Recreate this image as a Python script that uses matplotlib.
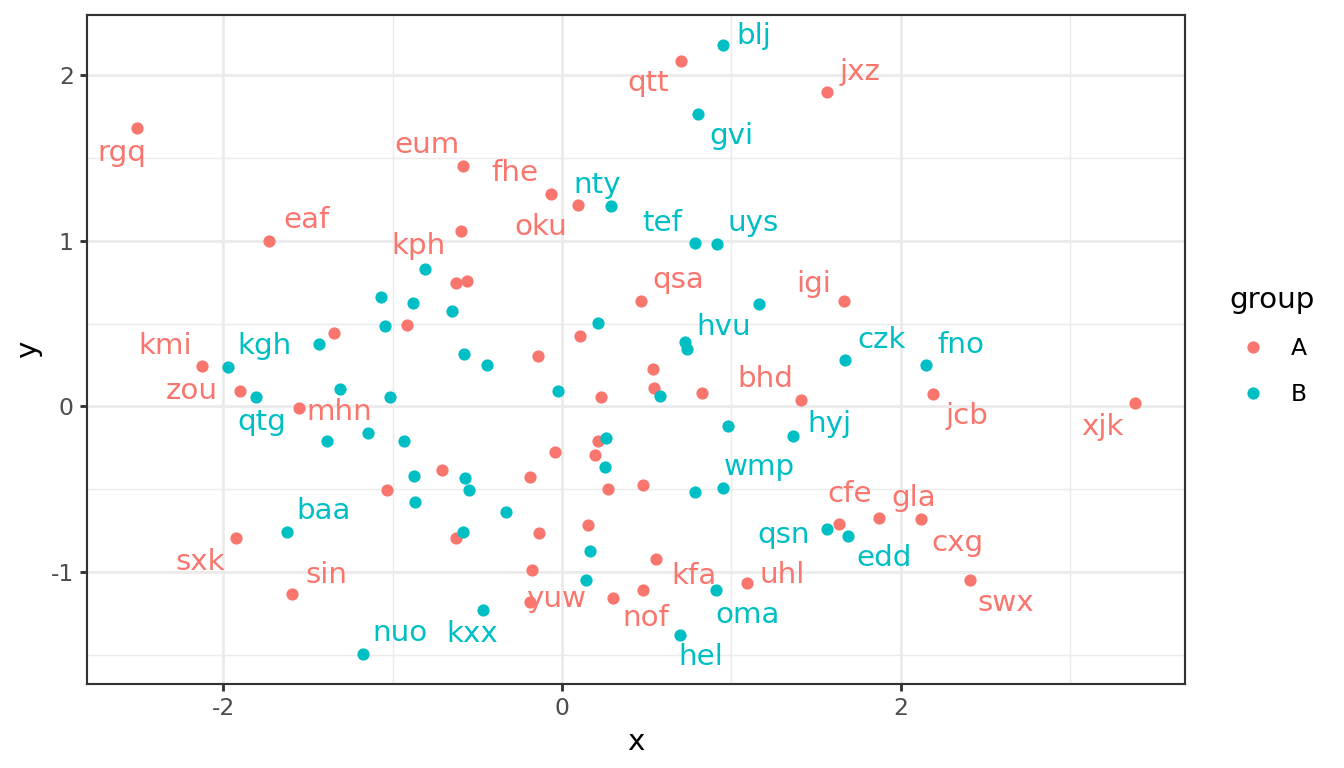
import matplotlib
matplotlib.use("Agg")
import matplotlib.pyplot as plt
from matplotlib.lines import Line2D
from matplotlib.ticker import MultipleLocator

plt.rcParams['font.family'] = ['DejaVu Sans']
plt.rcParams['axes.unicode_minus'] = False

# group A
xa = [-2.509, -1.727, -0.583, -0.597, -0.628, -0.559, -0.912, -1.344, -0.063, 0.096,
      0.703, 1.566, 0.467, 1.664, 0.109, -0.144, -2.123, -1.903, -1.550, 0.538,
      0.544, 0.228, 0.827, 1.414, 2.188, 3.384, 0.216, -0.039, 0.193, -0.705,
      -1.031, -0.189, 0.275, 0.477, -0.625, -0.138, 0.153, -1.925, -1.595, 0.554,
      -0.179, 0.302, 0.476, -0.187, 1.090, 1.634, 1.870, 2.120, 2.410]
ya = [1.679, 1.000, 1.448, 1.060, 0.744, 0.755, 0.494, 0.444, 1.279, 1.213,
      2.084, 1.899, 0.637, 0.633, 0.422, 0.303, 0.245, 0.096, -0.008, 0.224,
      0.110, 0.055, 0.084, 0.040, 0.078, 0.022, -0.206, -0.274, -0.295, -0.386,
      -0.504, -0.425, -0.499, -0.474, -0.791, -0.761, -0.716, -0.791, -1.133, -0.917,
      -0.986, -1.155, -1.105, -1.176, -1.062, -0.711, -0.670, -0.677, -1.046]
labels_a = ['rgq', 'eaf', 'eum', 'kph', '', '', '', '', 'fhe', 'oku',
            'qtt', 'jxz', 'qsa', 'igi', '', '', 'kmi', 'zou', 'mhn', '',
            '', '', '', 'bhd', 'jcb', 'xjk', '', '', '', '',
            '', '', '', '', '', '', '', 'sxk', 'sin', 'kfa',
            '', 'nof', '', 'yuw', 'uhl', 'cfe', 'gla', 'cxg', 'swx']

# group B
xb = [0.953, 0.801, 0.287, 0.786, 0.915, -0.810, -1.068, -0.878, -0.647, -1.045,
      -1.435, -0.577, -0.442, 1.161, 0.212, 0.727, 0.738, 1.674, 2.147, -1.974,
      -1.807, -1.308, -1.012, -0.024, 0.579, 0.979, 1.365, 0.259, 0.252, -1.384,
      -1.145, -0.933, -0.876, -0.572, -0.549, -0.865, 0.784, 0.949, -0.330, -0.582,
      -1.622, 0.163, 0.143, 1.566, 1.689, 0.909, 0.695, -0.464, -1.174]
yb = [2.177, 1.765, 1.209, 0.984, 0.982, 0.828, 0.663, 0.625, 0.577, 0.484,
      0.375, 0.316, 0.251, 0.619, 0.502, 0.390, 0.348, 0.281, 0.249, 0.235,
      0.058, 0.107, 0.056, 0.095, 0.066, -0.119, -0.181, -0.189, -0.363, -0.208,
      -0.158, -0.210, -0.419, -0.434, -0.506, -0.575, -0.516, -0.490, -0.639, -0.754,
      -0.755, -0.872, -1.047, -0.737, -0.783, -1.107, -1.377, -1.230, -1.490]
labels_b = ['blj', 'gvi', 'nty', 'tef', 'uys', '', '', '', '', '',
            '', '', '', '', '', 'hvu', '', 'czk', 'fno', 'kgh',
            'qtg', '', '', '', '', '', 'hyj', '', '', '',
            '', '', '', '', '', '', '', 'wmp', '', '',
            'baa', '', '', 'qsn', 'edd', 'oma', 'hel', 'kxx', 'nuo']

# repelled label offsets (pixels, from point to label centre)
label_offset = {
    'rgq': (-15, -25), 'eaf': (37, 21), 'eum': (-36, 21), 'kph': (-42, -15),
    'fhe': (-36, 21), 'oku': (-37, -22), 'qtt': (-33, -22), 'jxz': (33, 20),
    'qsa': (37, 21), 'igi': (-30, 17), 'kmi': (-37, 20), 'zou': (-48, 0),
    'mhn': (40, -4), 'bhd': (-36, 21), 'jcb': (34, -22), 'xjk': (-33, -24),
    'sxk': (-36, -24), 'sin': (35, 19), 'kfa': (38, -17), 'nof': (33, -20),
    'yuw': (26, 3), 'uhl': (36, 8), 'cfe': (11, 30), 'gla': (35, 20),
    'cxg': (36, -24), 'swx': (36, -23),
    'blj': (30, 9), 'gvi': (34, -22), 'nty': (-13, 21), 'tef': (-33, 20),
    'uys': (36, 21), 'hvu': (39, 15), 'czk': (36, 20), 'fno': (35, 20),
    'kgh': (37, 21), 'qtg': (6, -25), 'hyj': (36, 12), 'wmp': (37, 21),
    'baa': (36, 21), 'qsn': (-44, -6), 'edd': (36, -22), 'oma': (32, -25),
    'hel': (21, -22), 'kxx': (-11, -24), 'nuo': (37, 21),
}

col_a = '#F8766D'
col_b = '#00BFC4'

fig = plt.figure(figsize=(7, 4), dpi=192)
ax = fig.add_axes([87 / 1344, 1 - 684 / 768, (1185 - 87) / 1344, (684 - 15) / 768])

for xs, ys, labs, c in [(xa, ya, labels_a, col_a), (xb, yb, labels_b, col_b)]:
    ax.scatter(xs, ys, s=21, color=c, linewidths=0, zorder=3)
    for x, y, lab in zip(xs, ys, labs):
        if lab:
            dx, dy = label_offset[lab]
            ax.annotate(lab, (x, y), xytext=(dx, dy), textcoords='offset pixels',
                        ha='center', va='center', color=c, fontsize=11, zorder=4)

# ggplot-style expanded limits
allx = xa + xb
ally = ya + yb
rx = max(allx) - min(allx)
ry = max(ally) - min(ally)
ax.set_xlim(min(allx) - 0.05 * rx, max(allx) + 0.05 * rx)
ax.set_ylim(min(ally) - 0.05 * ry, max(ally) + 0.05 * ry)

ax.xaxis.set_major_locator(MultipleLocator(2))
ax.xaxis.set_minor_locator(MultipleLocator(1))
ax.yaxis.set_major_locator(MultipleLocator(1))
ax.yaxis.set_minor_locator(MultipleLocator(0.5))
ax.grid(which='major', color='#EBEBEB', linewidth=1.07)
ax.grid(which='minor', color='#EBEBEB', linewidth=0.53)
ax.set_axisbelow(True)
ax.tick_params(which='major', length=2.75, width=1.07, color='#333333',
               labelsize=8.8, labelcolor='#4D4D4D', pad=2.2)
ax.tick_params(which='minor', length=0)
for sp in ax.spines.values():
    sp.set_color('#333333')
    sp.set_linewidth(0.8)

ax.set_xlabel('x', fontsize=11, labelpad=3)
ax.set_ylabel('y', fontsize=11, labelpad=3)

handles = [Line2D([], [], marker='o', linestyle='', color=col_a, markersize=4.6, markeredgewidth=0),
           Line2D([], [], marker='o', linestyle='', color=col_b, markersize=4.6, markeredgewidth=0)]
leg = fig.legend(handles, ['A', 'B'], title='group', loc='center left',
                 bbox_to_anchor=(1218 / 1344, 1 - 346 / 768), frameon=False,
                 fontsize=8.8, title_fontsize=11, handlelength=1.96,
                 handletextpad=0.64, labelspacing=1.0, borderpad=0)
leg._legend_box.align = 'left'

fig.savefig('out.png', dpi=192)
